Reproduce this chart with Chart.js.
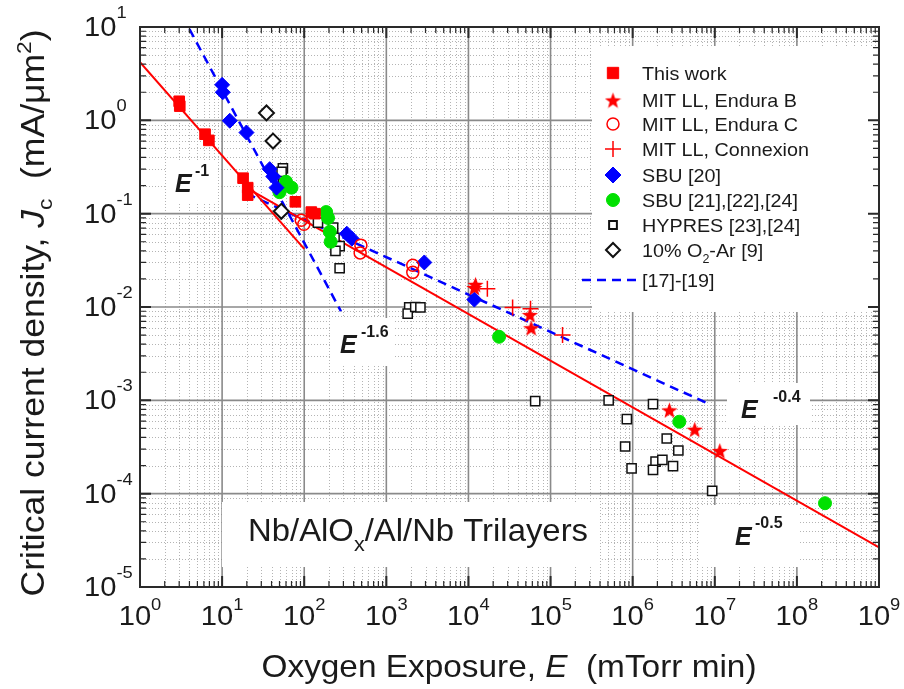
<!DOCTYPE html>
<html><head><meta charset="utf-8">
<script src="https://cdn.jsdelivr.net/npm/chart.js@4/dist/chart.umd.min.js"></script>
<style>html,body{margin:0;padding:0;background:#fff;}#wrap{width:904px;height:689px;position:relative;}</style>
</head><body><div id="wrap"><canvas id="c"></canvas></div>
<script>
// ---------- data ----------
const thisWorkE = [3, 3.05, 6.2, 6.9, 18, 20.5, 20.5, 78, 122, 135];
const thisWorkJ = [1.6, 1.42, 0.71, 0.61, 0.24, 0.19, 0.158, 0.134, 0.104, 0.1];
const enduraBE = [1.18e4, 1.22e4, 5.6e4, 5.8e4, 2.8e6, 5.7e6, 1.15e7];
const enduraBJ = [0.0162, 0.0175, 0.0083, 0.006, 7.9e-4, 4.9e-4, 2.9e-4];
const enduraCE = [92, 99, 490, 480, 2100, 2100];
const enduraCJ = [0.085, 0.077, 0.046, 0.038, 0.028, 0.0235];
const connexE = [1.7e4, 3.45e4, 5.7e4, 1.4e5];
const connexJ = [0.0157, 0.0099, 0.0096, 0.005];
const sbu20E = [10, 10.2, 12.4, 19.8, 38, 42, 46, 330, 380, 2900, 1.18e4];
const sbu20J = [2.4, 2.0, 0.99, 0.74, 0.3, 0.25, 0.19, 0.061, 0.054, 0.03, 0.012];
const sbu21E = [60, 70, 50, 185, 195, 205, 210, 2.36e4, 3.7e6, 2.2e8];
const sbu21J = [0.22, 0.19, 0.17, 0.104, 0.09, 0.064, 0.05, 0.0048, 5.9e-4, 7.9e-5];
const hypresE = [55, 53, 55, 147, 225, 234, 270, 240, 270, 1900, 1820, 2250, 2600,
  6.5e4, 5.1e5, 8.5e5, 8.1e5, 9.7e5, 1.77e6, 2.6e6, 3.6e6, 1.9e6, 2.3e6, 1.77e6, 3.1e6, 9.3e6];
const hypresJ = [0.305, 0.28, 0.21, 0.08, 0.071, 0.055, 0.045, 0.04, 0.026, 0.0099, 0.0085, 0.010, 0.0099,
  9.8e-4, 1.0e-3, 6.3e-4, 3.2e-4, 1.87e-4, 9.1e-4, 3.9e-4, 2.9e-4, 2.2e-4, 2.3e-4, 1.8e-4, 1.97e-4, 1.07e-4];
const o2ArE = [34.7, 41.7, 52.6];
const o2ArJ = [1.2, 0.6, 0.106];
// fitted power-law lines (end points)
const fitE1E = [1, 100];        const fitE1J = [4.2, 0.042];       // E^-1
const fitE05E = [18, 1e9];      const fitE05J = [0.198, 2.65e-5];  // E^-0.5
const ref16E = [4, 280];        const ref16J = [9.5, 0.009];       // E^-1.6 [17]-[19]
const ref04E = [20, 7.7e6];     const ref04J = [0.164, 9.5e-4];    // E^-0.4 [17]-[19]
// axis ticks
const xTickExps = [0, 1, 2, 3, 4, 5, 6, 7, 8, 9];
const yTickExps = [1, 0, -1, -2, -3, -4, -5];
const legendLabels = ['This work', 'MIT LL, Endura B', 'MIT LL, Endura C', 'MIT LL, Connexion',
  'SBU [20]', 'SBU [21],[22],[24]', 'HYPRES [23],[24]', '10% O2-Ar [9]', '[17]-[19]'];

// ---------- styling ----------
const FF = '"Liberation Sans", Arial, Helvetica, sans-serif';
const RED = '#ff0000', BLUE = '#0000ff', GREEN = '#00e000', INK = '#1a1a1a';
const pts = (xs, ys) => xs.map((x, i) => ({x, y: ys[i]}));

function makeStar(size, color) {
  const c = document.createElement('canvas'); c.width = c.height = size;
  const g = c.getContext('2d'); g.fillStyle = color; g.beginPath();
  const cx = size / 2, cy = size / 2 + size * 0.06, R = size / 2, r = R * 0.42;
  for (let i = 0; i < 10; i++) {
    const a = -Math.PI / 2 + i * Math.PI / 5, rr = i % 2 ? r : R;
    g.lineTo(cx + rr * Math.cos(a), cy + rr * Math.sin(a));
  }
  g.closePath(); g.fill(); return c;
}
const starImg = makeStar(17, RED);

const pointSets = [
  {label: legendLabels[0], data: pts(thisWorkE, thisWorkJ), pointStyle: 'rect', pointRadius: 7.5, backgroundColor: RED, borderColor: RED, borderWidth: 1},
  {label: legendLabels[1], data: pts(enduraBE, enduraBJ), pointStyle: starImg, pointRadius: 8, backgroundColor: RED, borderColor: RED, borderWidth: 0},
  {label: legendLabels[2], data: pts(enduraCE, enduraCJ), pointStyle: 'circle', pointRadius: 6, backgroundColor: 'rgba(255,255,255,0)', borderColor: RED, borderWidth: 1.5},
  {label: legendLabels[3], data: pts(connexE, connexJ), pointStyle: 'cross', pointRadius: 8, backgroundColor: RED, borderColor: RED, borderWidth: 1.5},
  {label: legendLabels[4], data: pts(sbu20E, sbu20J), pointStyle: 'rectRot', pointRadius: 7.5, backgroundColor: BLUE, borderColor: BLUE, borderWidth: 1},
  {label: legendLabels[5], data: pts(sbu21E, sbu21J), pointStyle: 'circle', pointRadius: 6.5, backgroundColor: GREEN, borderColor: GREEN, borderWidth: 1},
  {label: legendLabels[6], data: pts(hypresE, hypresJ), pointStyle: 'rect', pointRadius: 6.5, backgroundColor: '#ffffff', borderColor: '#111', borderWidth: 1.5},
  {label: legendLabels[7], data: pts(o2ArE, o2ArJ), pointStyle: 'rectRot', pointRadius: 7.5, backgroundColor: '#ffffff', borderColor: '#111', borderWidth: 2}
];
const lineBase = {showLine: true, pointRadius: 0, pointHitRadius: 0, fill: false, tension: 0};
const lineSets = [
  Object.assign({label: 'E^-1', data: pts(fitE1E, fitE1J), borderColor: RED, borderWidth: 2}, lineBase),
  Object.assign({label: 'E^-0.5', data: pts(fitE05E, fitE05J), borderColor: RED, borderWidth: 2}, lineBase),
  Object.assign({label: '[17]-[19] a', data: pts(ref16E, ref16J), borderColor: BLUE, borderWidth: 2.5, borderDash: [9, 6]}, lineBase),
  Object.assign({label: '[17]-[19] b', data: pts(ref04E, ref04J), borderColor: BLUE, borderWidth: 2.5, borderDash: [9, 6]}, lineBase)
];

// ---------- text helper ----------
function drawRuns(ctx, runs, x, y, align, target) {
  let total = 0;
  runs.forEach(r => { ctx.font = r.f; r.w = ctx.measureText(r.t).width; total += r.w; });
  let sx = 1;
  if (typeof target === 'number') sx = target / total;
  else if (target && target.sx) sx = target.sx;
  const W = total * sx;
  const start = align === 'center' ? x - W / 2 : align === 'right' ? x - W : x;
  ctx.save(); ctx.translate(start, y); ctx.scale(sx, 1);
  ctx.textAlign = 'left'; ctx.textBaseline = 'alphabetic';
  let cx = 0;
  runs.forEach(r => { ctx.font = r.f; ctx.fillText(r.t, cx, r.dy || 0); cx += r.w; });
  ctx.restore();
}

// ---------- decoration plugin ----------
const whiteBoxes = [
  [592, 46, 286, 266],   // legend
  [222, 502, 378, 65],   // Nb/AlOx/Al/Nb Trilayers
  [166, 160, 50, 42],    // E^-1
  [330, 318, 65, 48],    // E^-1.6
  [727, 383, 83, 42],    // E^-0.4
  [700, 505, 100, 62]    // E^-0.5
];
const decor = {
  id: 'decor',
  beforeDatasetsDraw(chart) {
    const {ctx, chartArea: a, scales: {x, y}} = chart;
    ctx.save();
    // minor dotted grid
    ctx.strokeStyle = '#b4b4b4'; ctx.lineWidth = 1; ctx.setLineDash([1, 2]);
    ctx.beginPath();
    for (let d = 0; d < 9; d++) for (let m = 2; m <= 9; m++) {
      const px = Math.round(x.getPixelForValue(m * Math.pow(10, d))) + 0.5;
      ctx.moveTo(px, a.top); ctx.lineTo(px, a.bottom);
    }
    for (let d = -5; d < 1; d++) for (let m = 2; m <= 9; m++) {
      const py = Math.round(y.getPixelForValue(m * Math.pow(10, d))) + 0.5;
      ctx.moveTo(a.left, py); ctx.lineTo(a.right, py);
    }
    ctx.stroke();
    // major grid
    ctx.setLineDash([]); ctx.strokeStyle = '#8a8a8a'; ctx.lineWidth = 1.6;
    ctx.beginPath();
    xTickExps.forEach(e => { const px = x.getPixelForValue(Math.pow(10, e)); ctx.moveTo(px, a.top); ctx.lineTo(px, a.bottom); });
    yTickExps.forEach(e => { const py = y.getPixelForValue(Math.pow(10, e)); ctx.moveTo(a.left, py); ctx.lineTo(a.right, py); });
    ctx.stroke();
    // white label boxes
    ctx.fillStyle = '#ffffff';
    whiteBoxes.forEach(b => ctx.fillRect(b[0], b[1], b[2], b[3]));
    ctx.restore();
  },
  afterDatasetsDraw(chart) {
    const {ctx, chartArea: a, scales: {x, y}} = chart;
    ctx.save();
    // frame
    ctx.strokeStyle = '#2a2a2a'; ctx.lineWidth = 2;
    ctx.strokeRect(a.left, a.top, a.right - a.left, a.bottom - a.top);
    // ticks (inside, all four sides)
    ctx.beginPath(); ctx.lineWidth = 1.2;
    for (let d = 0; d < 9; d++) for (let m = 2; m <= 9; m++) {
      const px = x.getPixelForValue(m * Math.pow(10, d));
      ctx.moveTo(px, a.bottom); ctx.lineTo(px, a.bottom - 6);
      ctx.moveTo(px, a.top); ctx.lineTo(px, a.top + 6);
    }
    for (let d = -5; d < 1; d++) for (let m = 2; m <= 9; m++) {
      const py = y.getPixelForValue(m * Math.pow(10, d));
      ctx.moveTo(a.left, py); ctx.lineTo(a.left + 6, py);
      ctx.moveTo(a.right, py); ctx.lineTo(a.right - 6, py);
    }
    ctx.stroke();
    ctx.beginPath(); ctx.lineWidth = 2;
    xTickExps.forEach(e => { const px = x.getPixelForValue(Math.pow(10, e));
      ctx.moveTo(px, a.bottom); ctx.lineTo(px, a.bottom - 11); ctx.moveTo(px, a.top); ctx.lineTo(px, a.top + 11); });
    yTickExps.forEach(e => { const py = y.getPixelForValue(Math.pow(10, e));
      ctx.moveTo(a.left, py); ctx.lineTo(a.left + 11, py); ctx.moveTo(a.right, py); ctx.lineTo(a.right - 11, py); });
    ctx.stroke();

    ctx.fillStyle = INK;
    // tick labels
    xTickExps.forEach(e => {
      const px = x.getPixelForValue(Math.pow(10, e));
      drawRuns(ctx, [{t: '10', f: '27px ' + FF}, {t: String(e), f: '17px ' + FF, dy: -15}], px, a.bottom + 38, 'center', {sx: 1.08});
    });
    yTickExps.forEach(e => {
      const py = y.getPixelForValue(Math.pow(10, e));
      drawRuns(ctx, [{t: '10', f: '27px ' + FF}, {t: String(e), f: '17px ' + FF, dy: -18}], 84, py + 9, 'left', {sx: 1.08});
    });
    // axis titles
    drawRuns(ctx, [{t: 'Oxygen Exposure, ', f: '32px ' + FF}, {t: 'E', f: 'italic 32px ' + FF}, {t: '  (mTorr min)', f: '32px ' + FF}],
      509, 677, 'center', 495);
    ctx.save(); ctx.translate(44, 313); ctx.rotate(-Math.PI / 2);
    drawRuns(ctx, [{t: 'Critical current density, ', f: '33px ' + FF}, {t: 'J', f: 'italic 33px ' + FF},
      {t: 'c', f: '21px ' + FF, dy: 8}, {t: '  (mA/\u03bcm', f: '33px ' + FF}, {t: '2', f: '21px ' + FF, dy: -13}, {t: ')', f: '33px ' + FF}],
      0, 0, 'center', 567);
    ctx.restore();

    // in-plot annotations
    drawRuns(ctx, [{t: 'Nb/AlO', f: '32px ' + FF}, {t: 'x', f: '21px ' + FF, dy: 10}, {t: '/Al/Nb Trilayers', f: '32px ' + FF}], 248, 541, 'left', 340);
    const eLab = (sup, ex, ey, sx2, sy) => {
      drawRuns(ctx, [{t: 'E', f: 'italic bold 25px ' + FF}], ex, ey, 'left');
      drawRuns(ctx, [{t: sup, f: 'bold 16px ' + FF}], sx2, sy, 'left');
    };
    eLab('-1', 175, 192, 195, 176);
    eLab('-1.6', 340, 353, 361, 337);
    eLab('-0.4', 741, 418, 773, 402);
    eLab('-0.5', 735, 545, 755, 528);

    // legend
    const rows = [73, 100, 124, 149, 175, 200, 225, 250, 280];
    const symX = 613, txtX = 642;
    const legSizes = [8, 8, 6, 8, 8, 6.5, 5.5, 7];
    const dp = Chart.helpers && Chart.helpers.drawPoint;
    pointSets.forEach((ds, i) => {
      const yy = rows[i];
      ctx.save();
      ctx.fillStyle = ds.backgroundColor; ctx.strokeStyle = ds.borderColor;
      ctx.lineWidth = i >= 6 ? 2 : ds.borderWidth;
      if (dp) dp(ctx, {pointStyle: ds.pointStyle, radius: legSizes[i], rotation: 0, borderWidth: ctx.lineWidth}, symX, yy);
      ctx.restore();
      ctx.fillStyle = INK;
      if (i === 7) {
        drawRuns(ctx, [{t: '10% O', f: '19px ' + FF}, {t: '2', f: '12px ' + FF, dy: 6}, {t: '-Ar [9]', f: '19px ' + FF}], txtX, yy + 7, 'left', {sx: 1.04});
      } else {
        drawRuns(ctx, [{t: ds.label, f: '19px ' + FF}], txtX, yy + 7, 'left', {sx: 1.04});
      }
    });
    ctx.save(); ctx.strokeStyle = BLUE; ctx.lineWidth = 2.5; ctx.setLineDash([9, 6]);
    ctx.beginPath(); ctx.moveTo(582, rows[8]); ctx.lineTo(636, rows[8]); ctx.stroke(); ctx.restore();
    ctx.fillStyle = INK;
    drawRuns(ctx, [{t: legendLabels[8], f: '19px ' + FF}], txtX, rows[8] + 7, 'left', {sx: 1.04});
    ctx.restore();
  }
};

new Chart(document.getElementById('c'), {
  type: 'scatter',
  data: {datasets: pointSets.concat(lineSets)},
  options: {
    responsive: true, maintainAspectRatio: false, animation: false,
    layout: {padding: {left: 0, right: 25, top: 27, bottom: 0}},
    plugins: {legend: {display: false}, tooltip: {enabled: false}},
    scales: {
      x: {type: 'logarithmic', min: 1, max: 1e9, position: 'bottom',
          grid: {display: false}, border: {display: false}, ticks: {display: false},
          afterFit: s => { s.height = 102; }},
      y: {type: 'logarithmic', min: 1e-5, max: 10, position: 'left',
          grid: {display: false}, border: {display: false}, ticks: {display: false},
          afterFit: s => { s.width = 140; }}
    }
  },
  plugins: [decor]
});
</script></body></html>
